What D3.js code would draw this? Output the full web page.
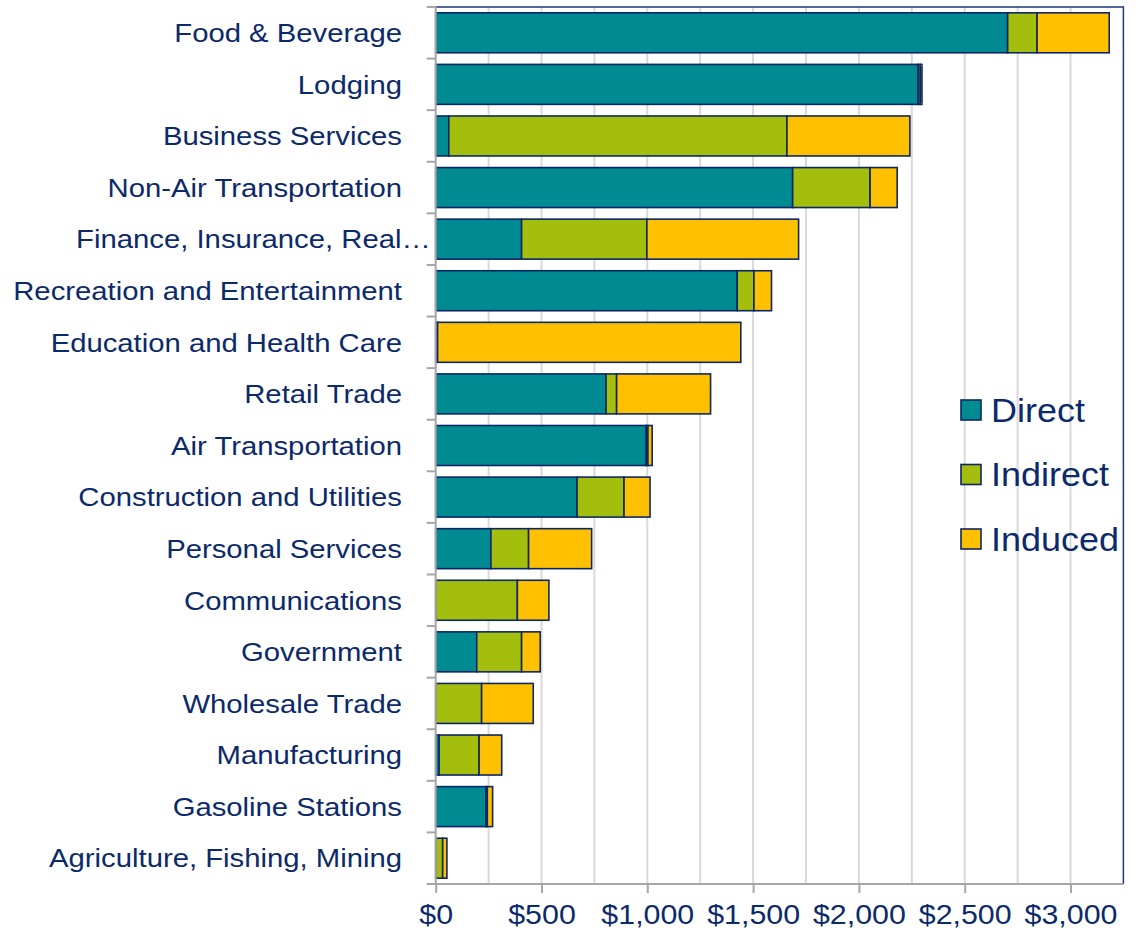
<!DOCTYPE html>
<html>
<head>
<meta charset="utf-8">
<script src="https://cdn.jsdelivr.net/npm/d3@7"></script>
<style>
  body { margin: 0; background: #fff; }
  text { font-family: "Liberation Sans", Arial, sans-serif; fill: #0c2a6a; }
</style>
</head>
<body>
<div id="chart"></div>
<script>
// categories top to bottom
var categories = ["Food & Beverage", "Lodging", "Business Services", "Non-Air Transportation",
  "Finance, Insurance, Real…", "Recreation and Entertainment", "Education and Health Care",
  "Retail Trade", "Air Transportation", "Construction and Utilities", "Personal Services",
  "Communications", "Government", "Wholesale Trade", "Manufacturing", "Gasoline Stations",
  "Agriculture, Fishing, Mining"]
var direct   = [2703, 2280,   62, 1687,  406, 1425,    5,  805,  995,  668,  261,   0, 194,   0,  16, 238,  0]
var indirect = [ 139,   10, 1598,  366,  592,   79,    4,   50,    8,  222,  178, 386, 212, 217, 189,   6, 33]
var induced  = [ 341,    8,  581,  128,  717,   83, 1433,  444,   20,  123,  298, 149,  88, 244, 107,  25, 20]
var seriesNames = ["Direct", "Indirect", "Induced"]
var colors = ["#008a92", "#a4be0e", "#ffc000"]
var xTicks = [0, 500, 1000, 1500, 2000, 2500, 3000]

var width = 1136, height = 931
var margin = {top: 7, bottom: 47, left: 435.7, right: 12.6}
var stretch = "scale(1.105,1)"

var rows = categories.map(function(c, i){
  return {cat: c, Direct: direct[i], Indirect: indirect[i], Induced: induced[i]}
})
var stacked = d3.stack().keys(seriesNames)(rows)

var svg = d3.select("#chart").append("svg")
  .attr("width", width)
  .attr("height", height)

var x = d3.scaleLinear()
  .domain([0, 3250])
  .range([margin.left, width - margin.right])

var y = d3.scaleBand()
  .domain(categories)
  .range([margin.top, height - margin.bottom])
  .paddingInner(0.225)
  .paddingOuter(0.1125)

// gridlines
svg.append("g")
  .selectAll("line")
  .data(d3.range(250, 3250, 250))
  .join("line")
  .attr("x1", d => x(d)).attr("x2", d => x(d))
  .attr("y1", margin.top).attr("y2", height - margin.bottom)
  .attr("stroke", "#d9d9d9")
  .attr("stroke-width", 2)

// plot border (top + right)
svg.append("path")
  .attr("d", "M" + x(0) + "," + margin.top + "H" + x(3250) + "V" + (height - margin.bottom))
  .attr("fill", "none")
  .attr("stroke", "#1a3a78")
  .attr("stroke-width", 1.5)

// bars
svg.append("g")
  .selectAll("g")
  .data(stacked)
  .join("g")
  .attr("fill", (d, i) => colors[i])
  .selectAll("rect")
  .data(d => d)
  .join("rect")
  .attr("x", d => x(d[0]))
  .attr("y", d => y(d.data.cat))
  .attr("width", d => x(d[1]) - x(d[0]))
  .attr("height", y.bandwidth())
  .attr("stroke", "#0d2765")
  .attr("stroke-width", 1.6)
  .attr("display", d => d[1] - d[0] > 0 ? null : "none")

// y axis
var step = y.step()
var yAxis = svg.append("g")
yAxis.selectAll("line")
  .data(d3.range(categories.length + 1))
  .join("line")
  .attr("x1", x(0) - 9).attr("x2", x(0))
  .attr("y1", i => margin.top + i * step).attr("y2", i => margin.top + i * step)
  .attr("stroke", "#a6a6a6").attr("stroke-width", 2)
yAxis.append("line")
  .attr("x1", x(0)).attr("x2", x(0))
  .attr("y1", margin.top).attr("y2", height - margin.bottom)
  .attr("stroke", "#a6a6a6").attr("stroke-width", 2)
yAxis.selectAll("text")
  .data(categories)
  .join("text")
  .attr("transform", d => "translate(" + (d.endsWith("…") ? x(0) - 5 : 402) + "," + (y(d) + y.bandwidth() / 2) + ") " + stretch)
  .attr("dy", "0.35em")
  .attr("text-anchor", "end")
  .attr("font-size", "26.5px")
  .text(d => d)

// x axis
var xAxis = svg.append("g")
  .attr("transform", "translate(0," + (height - margin.bottom) + ")")
  .call(d3.axisBottom(x).tickValues(xTicks).tickSize(9).tickPadding(11)
    .tickFormat(d => "$" + d3.format(",")(d)))
xAxis.select(".domain").attr("stroke", "#a6a6a6").attr("stroke-width", 2)
  .attr("d", "M" + (x(0) - 1) + ",0H" + x(3250))
xAxis.selectAll(".tick line").attr("stroke", "#a6a6a6").attr("stroke-width", 2)
xAxis.selectAll(".tick text")
  .attr("font-size", "27.5px")
  .attr("font-family", "Liberation Sans, Arial, sans-serif")
  .attr("fill", "#0c2a6a")
  .attr("transform", stretch)

// legend
var legend = svg.append("g")
  .selectAll("g")
  .data(seriesNames)
  .join("g")
  .attr("transform", (d, i) => "translate(961," + (410 + i * 64.5) + ")")
legend.append("rect")
  .attr("x", 0).attr("y", -10)
  .attr("width", 20).attr("height", 20)
  .attr("fill", (d, i) => colors[i])
  .attr("stroke", "#0d2765").attr("stroke-width", 1.6)
legend.append("text")
  .attr("transform", "translate(30,0) scale(1.09,1)")
  .attr("dy", "0.35em")
  .attr("font-size", "33px")
  .text(d => d)
</script>
</body>
</html>
